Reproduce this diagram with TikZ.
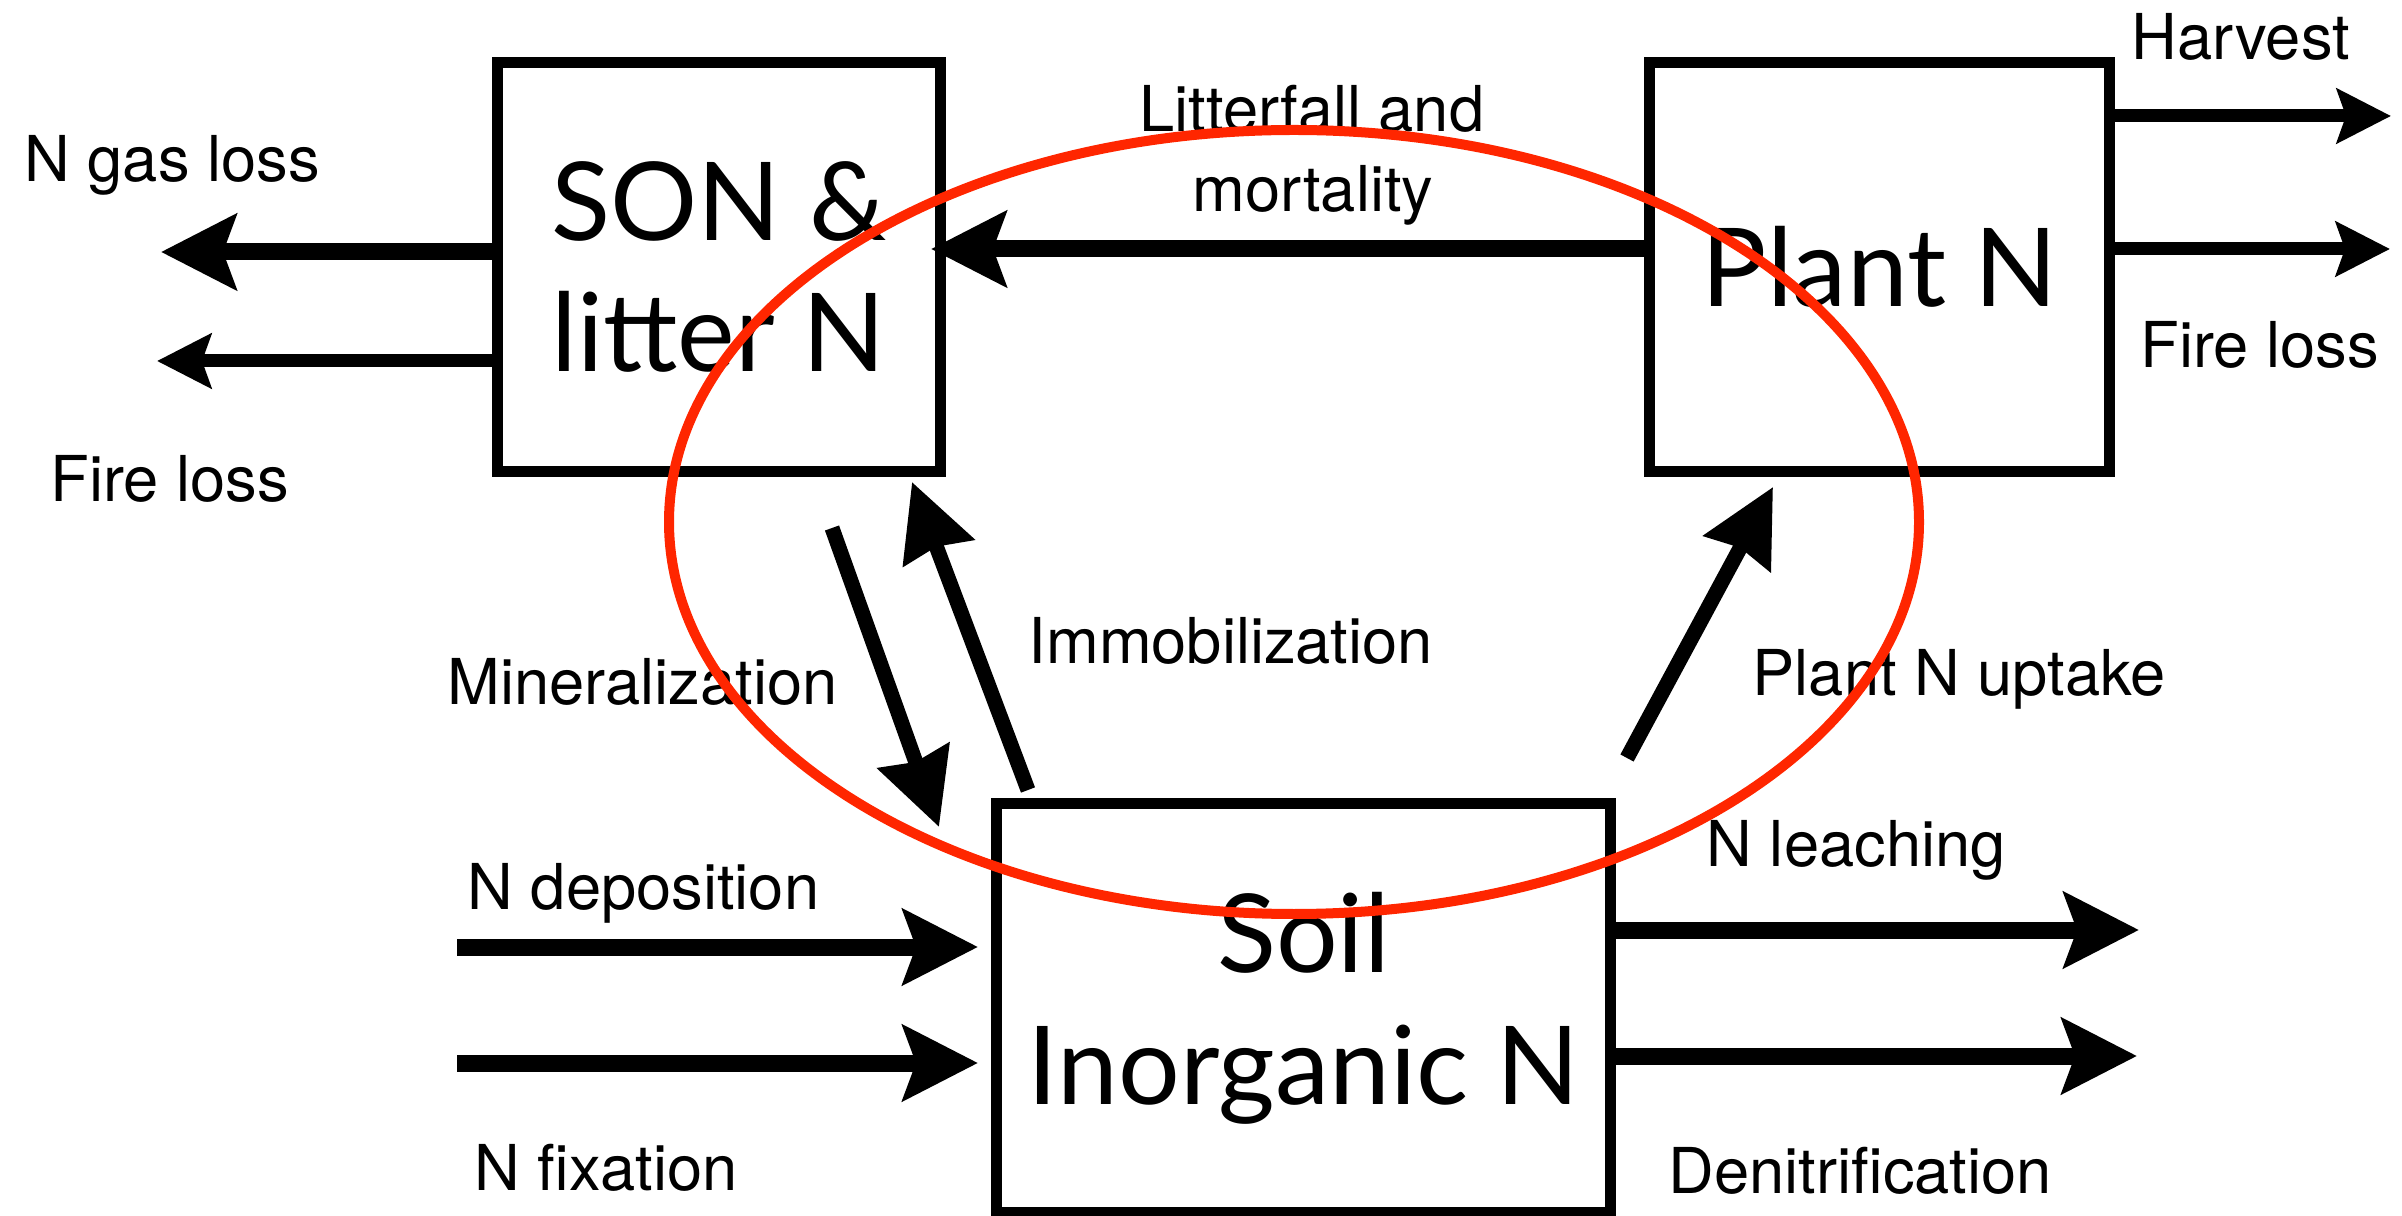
\documentclass[tikz,border=0pt]{standalone}
\usepackage{fontspec}
\setmainfont{TeX Gyre Heros}
\newfontfamily\boxfont{Lato}
\usepackage{tikz}
\usetikzlibrary{arrows.meta, positioning, calc}
\definecolor{rouge}{RGB}{255,38,0}

\begin{document}
\begin{tikzpicture}[
	pool/.style={draw, line width=0.11cm, minimum width=#1, minimum height=4.09cm,
		inner sep=0pt, align=center, font=\boxfont\fontsize{31}{37.5}\selectfont},
	flux/.style={line width=0.17cm, -{Stealth[length=0.75cm, width=0.75cm, inset=0.13cm]}},
	fluxfin/.style={line width=0.13cm, -{Stealth[length=0.54cm, width=0.54cm, inset=0.09cm]}},
	fluxdiag/.style={line width=0.15cm, -{Stealth[length=0.75cm, width=0.74cm, inset=0.06cm]}},
	lbl/.style={inner sep=0pt, anchor=base west, font=\fontsize{18}{22}\selectfont}]
				\useasboundingbox (0,0) rectangle (24.02,12.15);
				% compartiments
				\node[pool=4.43cm] (son) at (7.19,9.48) {SON \&\\litter N};
				\node[pool=4.60cm] (plant) at (18.795,9.48) {Plant N};
				\node[pool=6.14cm] (soil) at (13.035,2.07) {Soil\\Inorganic N};
				% extremites libres
				\coordinate (gas) at (1.61,9.63);
				\coordinate (sonfire) at (1.57,8.54);
				\coordinate (litter) at (9.31,9.66);
				\coordinate (harv) at (23.91,10.99);
				\coordinate (plfire) at (23.90,9.66);
				\coordinate (leach) at (21.39,2.85);
				\coordinate (denit) at (21.37,1.59);
				\foreach \nm/\yv in {dep/2.68, fix/1.52}
				\coordinate (\nm) at (4.57,\yv);
				\coordinate (minA) at (8.32,6.87);
				\coordinate (minB) at (9.39,3.88);
				\coordinate (immA) at (10.28,4.25);
				\coordinate (immB) at (9.12,7.33);
				\coordinate (uptA) at (16.27,4.57);
				\coordinate (uptB) at (17.73,7.28);
				% flux
				\draw[flux] (son.west |- gas) -- (gas);
				\draw[fluxfin] (son.west |- sonfire) -- (sonfire);
				\draw[flux] (plant.west |- litter) -- (litter);
				\foreach \nm in {harv, plfire}
				\draw[fluxfin] (plant.east |- \nm) -- (\nm);
				\foreach \nm in {leach, denit}
				\draw[flux] (soil.east |- \nm) -- (\nm);
				\foreach \nm in {dep, fix}
				\draw[flux] (\nm) -- ([xshift=-0.13cm]soil.west |- \nm);
				\draw[fluxdiag] (minA) -- (minB);
				\draw[fluxdiag] (immA) -- (immB);
				\draw[fluxdiag] (uptA) -- (uptB);
				% etiquettes
				\node[lbl] (gaslbl) at (0.24,10.33) {N gas loss};
				\node[lbl] (sonfirelbl) at (0.50,7.13) {Fire loss};
				\node[lbl, anchor=base] (litterlbl) at (13.12,10.83) {Litterfall and};
				\node[lbl, anchor=base] (mortlbl) at (13.13,10.03) {mortality};
				\node[lbl] (harvlbl) at (21.31,11.55) {Harvest};
				\node[lbl] (plfirelbl) at (21.40,8.47) {Fire loss};
				\node[lbl] (minlbl) at (4.47,5.10) {Mineralization};
				\node[lbl] (immlbl) at (10.28,5.51) {Immobilization};
				\node[lbl] (uptlbl) at (17.52,5.19) {Plant N uptake};
				\node[lbl] (deplbl) at (4.67,3.06) {N deposition};
				\node[lbl] (fixlbl) at (4.74,0.25) {N fixation};
				\node[lbl] (leachlbl) at (17.06,3.48) {N leaching};
				\node[lbl] (denitlbl) at (16.68,0.22) {Denitrification};
				% boucle interne
				\draw[rouge, line width=0.10cm] (12.94,6.93) ellipse (6.25cm and 3.92cm);
			\end{tikzpicture}
\end{document}
